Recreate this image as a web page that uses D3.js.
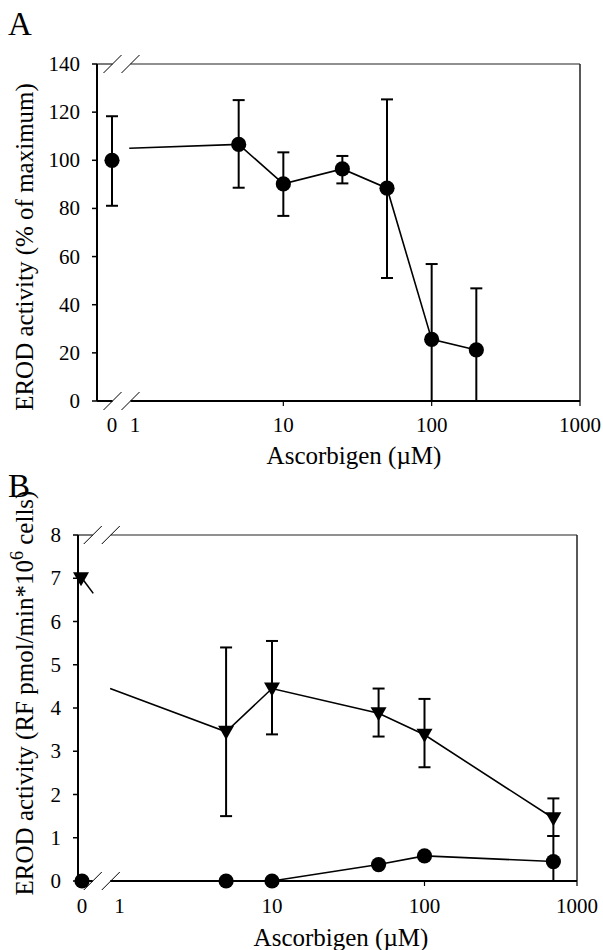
<!DOCTYPE html>
<html>
<head>
<meta charset="utf-8">
<script src="https://cdn.jsdelivr.net/npm/d3@7"></script>
<style>
  body { margin: 0; background: #fff; }
</style>
</head>
<body>
<svg id="chart" width="603" height="950" font-family="Liberation Serif, DejaVu Serif, serif"></svg>
<script>
// panel A: EROD activity as % of maximum
const concA = [0, 5, 10, 25, 50, 100, 200];
const erodA = [100, 106.6, 90.2, 96.4, 88.4, 25.6, 21.2];
const errHighA = [118.3, 125, 103.3, 101.8, 125.3, 56.9, 46.8];
const errLowA = [81.1, 88.6, 76.9, 90.4, 51.1, 0, 0];
const lineStartA = { x: 0.75, y: 105 };
const yTicksA = [0, 20, 40, 60, 80, 100, 120, 140];

// panel B: EROD activity in RF pmol/min*10^6 cells
const concB = [0, 5, 10, 50, 100, 700];
const triB = [7.0, 3.45, 4.45, 3.88, 3.38, 1.45];
const triHighB = [null, 5.4, 5.55, 4.45, 4.21, 1.91];
const triLowB = [null, 1.5, 3.39, 3.34, 2.63, 1.04];
const circB = [0, 0, 0, 0.38, 0.58, 0.45];
const circHighB = [null, null, null, null, null, 1.04];
const circLowB = [null, null, null, null, null, 0];
const triStartB = { x: 0.75, y: 4.45 };
const circStartB = { x: 0.75, y: 0 };
const triStubB = { x: 0.3, y: 6.65 };
const yTicksB = [0, 1, 2, 3, 4, 5, 6, 7, 8];

const xLabels = [0, 1, 10, 100, 1000];
const xTickMarks = [10, 100, 1000];

const serif = "'Liberation Serif', 'Times New Roman', Times, 'DejaVu Serif', serif";
const svg = d3.select("svg#chart");

// x scale with a broken section between 0 and 1, log above 1
function makeX(zeroPx, onePx, endPx) {
  const brk = d3.scaleLinear().domain([0, 1]).range([zeroPx, onePx]);
  const lg = d3.scaleLog().domain([1, 1000]).range([onePx, endPx]);
  return (v) => (v < 1 ? brk(v) : lg(v));
}

function drawPanel(cfg) {
  const g = svg.append("g");
  const x = makeX(cfg.zeroPx, cfg.onePx, cfg.right);
  const y = d3.scaleLinear().domain(cfg.yDomain).range([cfg.bottom, cfg.top]);
  const brkC = (x(0) + x(1)) / 2 + cfg.brkShift;

  // top and right frame (thin)
  g.append("line")
    .attr("x1", cfg.left).attr("x2", brkC - 9)
    .attr("y1", cfg.top).attr("y2", cfg.top)
    .attr("stroke", "#222").attr("stroke-width", 1.2);
  g.append("line")
    .attr("x1", brkC + 9).attr("x2", cfg.right)
    .attr("y1", cfg.top).attr("y2", cfg.top)
    .attr("stroke", "#222").attr("stroke-width", 1.2);
  g.append("line")
    .attr("x1", cfg.right).attr("x2", cfg.right)
    .attr("y1", cfg.top).attr("y2", cfg.bottom)
    .attr("stroke", "#222").attr("stroke-width", 1.5);

  // left axis
  g.append("line")
    .attr("x1", cfg.left).attr("x2", cfg.left)
    .attr("y1", cfg.top).attr("y2", cfg.bottom)
    .attr("stroke", "#000").attr("stroke-width", 2);
  g.selectAll("line.ytick")
    .data(cfg.yTicks)
    .join("line")
    .attr("class", "ytick")
    .attr("x1", cfg.left - 5).attr("x2", cfg.left)
    .attr("y1", (d) => y(d)).attr("y2", (d) => y(d))
    .attr("stroke", "#000").attr("stroke-width", 1.5);
  g.selectAll("text.ylab")
    .data(cfg.yTicks)
    .join("text")
    .attr("class", "ylab")
    .attr("x", cfg.left - 17)
    .attr("y", (d) => y(d) + 7)
    .attr("text-anchor", "end")
    .attr("font-family", serif)
    .attr("font-size", 21)
    .text((d) => d);

  // bottom axis, broken between 0 and 1
  g.append("line")
    .attr("x1", cfg.left).attr("x2", brkC - 9)
    .attr("y1", cfg.bottom).attr("y2", cfg.bottom)
    .attr("stroke", "#000").attr("stroke-width", 2);
  g.append("line")
    .attr("x1", brkC + 9).attr("x2", cfg.right)
    .attr("y1", cfg.bottom).attr("y2", cfg.bottom)
    .attr("stroke", "#000").attr("stroke-width", 2);
  g.selectAll("line.xtick")
    .data(xTickMarks)
    .join("line")
    .attr("class", "xtick")
    .attr("x1", (d) => x(d)).attr("x2", (d) => x(d))
    .attr("y1", cfg.bottom).attr("y2", cfg.bottom + 5)
    .attr("stroke", "#000").attr("stroke-width", 1.2);
  g.selectAll("text.xlab")
    .data(xLabels)
    .join("text")
    .attr("class", "xlab")
    .attr("x", (d) => x(d))
    .attr("y", cfg.bottom + cfg.xLabGap)
    .attr("text-anchor", "middle")
    .attr("font-family", serif)
    .attr("font-size", 21)
    .text((d) => d);

  // break marks
  [cfg.top, cfg.bottom].forEach((yy) => {
    [brkC - 18, brkC].forEach((sx) => {
      g.append("line")
        .attr("x1", sx).attr("y1", yy + 9)
        .attr("x2", sx + 18).attr("y2", yy - 9)
        .attr("stroke", "#000").attr("stroke-width", 1);
    });
  });

  // titles
  g.append("text")
    .attr("x", 8).attr("y", cfg.letterY)
    .attr("font-family", serif)
    .attr("font-size", 33)
    .text(cfg.letter);
  g.append("text")
    .attr("x", cfg.xTitleX).attr("y", cfg.xTitleY)
    .attr("text-anchor", "middle")
    .attr("font-family", serif)
    .attr("font-size", 25)
    .text("Ascorbigen (\u00b5M)");
  const yt = g.append("text")
    .attr("transform", `translate(33, ${cfg.yTitleY}) rotate(-90)`)
    .attr("text-anchor", "middle")
    .attr("font-family", serif)
    .attr("font-size", 25);
  cfg.yTitle(yt);

  return { g, x, y };
}

function errorBars(g, x, y, xs, lows, highs) {
  xs.forEach((c, i) => {
    if (highs[i] == null) return;
    const cx = x(c);
    g.append("line")
      .attr("x1", cx).attr("x2", cx)
      .attr("y1", y(lows[i])).attr("y2", y(highs[i]))
      .attr("stroke", "#000").attr("stroke-width", 2);
    [lows[i], highs[i]].forEach((v) => {
      if (v <= 0) return;
      g.append("line")
        .attr("x1", cx - 6).attr("x2", cx + 6)
        .attr("y1", y(v)).attr("y2", y(v))
        .attr("stroke", "#000").attr("stroke-width", 2);
    });
  });
}

function seriesLine(g, x, y, pts) {
  g.append("path")
    .attr("d", d3.line().x((d) => x(d.x)).y((d) => y(d.y))(pts))
    .attr("fill", "none")
    .attr("stroke", "#000")
    .attr("stroke-width", 1.6);
}

// ---- Panel A ----
const pA = drawPanel({
  left: 97, right: 580, top: 64, bottom: 401,
  zeroPx: 112, onePx: 135, brkShift: -2,
  yDomain: [0, 140], yTicks: yTicksA,
  xLabGap: 31, letter: "A", letterY: 35,
  xTitleX: 354, xTitleY: 464, yTitleY: 247,
  yTitle: (t) => t.text("EROD activity (% of maximum)"),
});
errorBars(pA.g, pA.x, pA.y, concA, errLowA, errHighA);
seriesLine(
  pA.g, pA.x, pA.y,
  [lineStartA].concat(concA.slice(1).map((c, i) => ({ x: c, y: erodA[i + 1] })))
);
pA.g.selectAll("circle.pt")
  .data(concA)
  .join("circle")
  .attr("class", "pt")
  .attr("cx", (d) => pA.x(d))
  .attr("cy", (d, i) => pA.y(erodA[i]))
  .attr("r", 7.6)
  .attr("fill", "#000");

// ---- Panel B ----
const pB = drawPanel({
  left: 78, right: 577, top: 535, bottom: 881,
  zeroPx: 82, onePx: 119.5, brkShift: 1,
  yDomain: [0, 8], yTicks: yTicksB,
  xLabGap: 32, letter: "B", letterY: 497,
  xTitleX: 341, xTitleY: 946, yTitleY: 693,
  yTitle: (t) => {
    t.append("tspan").text("EROD activity (RF pmol/min*10");
    t.append("tspan").attr("font-size", 18).attr("dy", -10).text("6");
    t.append("tspan").attr("dy", 10).text(" cells)");
  },
});
errorBars(pB.g, pB.x, pB.y, concB, triLowB, triHighB);
errorBars(pB.g, pB.x, pB.y, concB, circLowB, circHighB);
seriesLine(pB.g, pB.x, pB.y, [{ x: concB[0], y: triB[0] }, triStubB]);
seriesLine(
  pB.g, pB.x, pB.y,
  [triStartB].concat(concB.slice(1).map((c, i) => ({ x: c, y: triB[i + 1] })))
);
seriesLine(
  pB.g, pB.x, pB.y,
  [circStartB].concat(concB.slice(1).map((c, i) => ({ x: c, y: circB[i + 1] })))
);
pB.g.selectAll("circle.pt")
  .data(concB)
  .join("circle")
  .attr("class", "pt")
  .attr("cx", (d) => pB.x(d))
  .attr("cy", (d, i) => pB.y(circB[i]))
  .attr("r", 7.6)
  .attr("fill", "#000");
pB.g.selectAll("path.tri")
  .data(concB)
  .join("path")
  .attr("class", "tri")
  .attr("transform", (d, i) => `translate(${pB.x(d) - (i === 0 ? 1 : 0)}, ${pB.y(triB[i])})`)
  .attr("d", "M-8,-6L8,-6L0,8Z")
  .attr("fill", "#000");
</script>
</body>
</html>
